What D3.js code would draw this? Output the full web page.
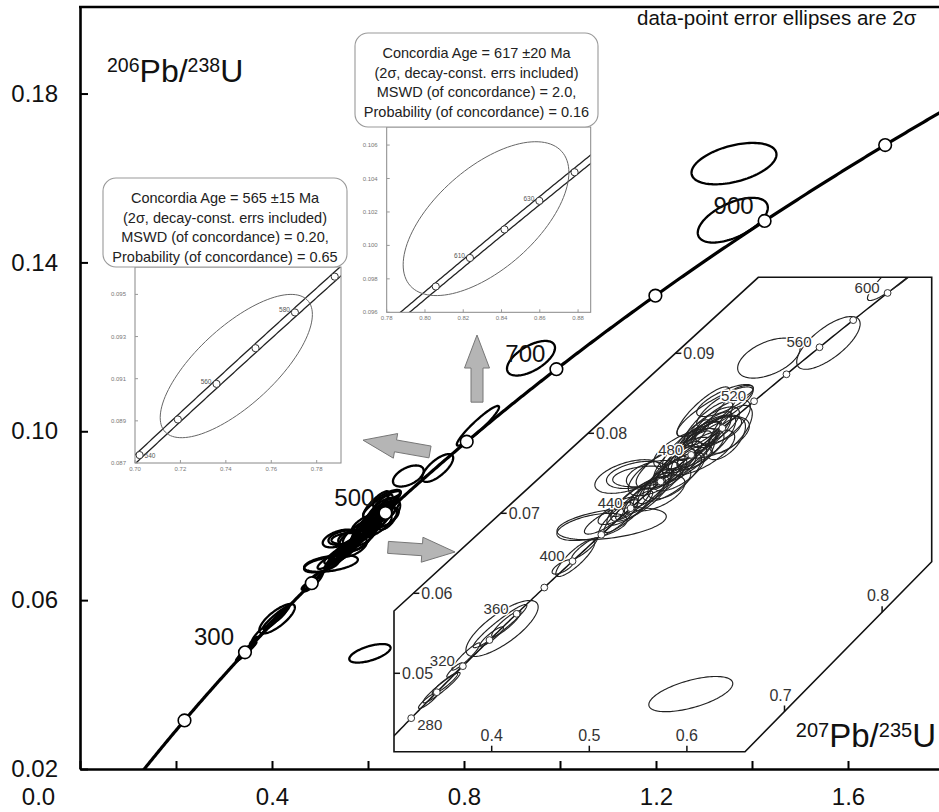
<!DOCTYPE html>
<html><head><meta charset="utf-8">
<script src="https://cdn.jsdelivr.net/npm/d3@7"></script>
<style>
body{margin:0;background:#fff}
svg{display:block}
text{font-family:"Liberation Sans",Arial,Helvetica,sans-serif}
</style>
</head><body>
<svg id="c" width="939" height="812"></svg>
<script>
// ---------- constants (decay constants, per Ma) ----------
const LAMBDA238 = 1.55125e-4;
const LAMBDA235 = 9.8485e-4;
const BAND = 0.0023; // relative decay-constant uncertainty used for inset bands

// ---------- data ----------
const mainAgeMarks = [200, 300, 400, 500, 600, 700, 800, 900, 1000, 1100];
const mainAgeLabels = [300, 500, 700, 900];
const panelAgeMarks = [280, 300, 320, 340, 360, 380, 400, 420, 440, 460, 480, 500, 520, 540, 560, 580, 600];
const panelAgeLabels = [280, 320, 360, 400, 440, 480, 520, 560, 600];
const insetAAgeMarks = [540, 550, 560, 570, 580, 590];
const insetAAgeLabels = [540, 560, 580];
const insetBAgeMarks = [600, 610, 620, 630, 640];
const insetBAgeLabels = [610, 630];

const mainXTicks = [0, 0.2, 0.4, 0.6, 0.8, 1.0, 1.2, 1.4, 1.6];
const mainXLabels = [0, 0.4, 0.8, 1.2, 1.6];
const mainYTicks = [0.02, 0.06, 0.10, 0.14, 0.18];
const panelXTicks = [0.4, 0.5, 0.6, 0.7, 0.8];
const panelYTicks = [0.05, 0.06, 0.07, 0.08, 0.09];
const insetAXTicks = [0.70, 0.72, 0.74, 0.76, 0.78];
const insetAYTicks = [0.087, 0.089, 0.091, 0.093, 0.095];
const insetBXTicks = [0.78, 0.80, 0.82, 0.84, 0.86, 0.88];
const insetBYTicks = [0.096, 0.098, 0.100, 0.102, 0.104, 0.106];

// grains: [207Pb/235U, 206Pb/238U, 2s(207/235), 2s(206/238), rho]
const grains = [
  [0.3350, 0.0466, 0.010, 0.0010, 0.90],
  [0.3486, 0.0482, 0.019, 0.0019, 0.95],
  [0.3520, 0.0487, 0.013, 0.0013, 0.93],
  [0.3620, 0.0504, 0.008, 0.0009, 0.90],
  [0.3737, 0.0521, 0.0145, 0.0017, 0.93],
  [0.4000, 0.0546, 0.012, 0.0012, 0.90],
  [0.4106, 0.0556, 0.037, 0.0035, 0.77],
  [0.4085, 0.0559, 0.0275, 0.0027, 0.95],
  [0.4150, 0.0562, 0.015, 0.0016, 0.90],
  [0.4729, 0.0633, 0.011, 0.0009, 0.70],
  [0.4857, 0.0644, 0.020, 0.0023, 0.85],
  [0.4950, 0.0656, 0.013, 0.0013, 0.90],
  [0.5150, 0.0690, 0.020, 0.0016, 0.80],
  [0.5229, 0.0687, 0.056, 0.0020, 0.45],
  [0.5028, 0.0683, 0.036, 0.0017, 0.50],
  [0.5270, 0.0700, 0.018, 0.0014, 0.70],
  [0.5300, 0.0695, 0.020, 0.0022, 0.85],
  [0.5350, 0.0708, 0.015, 0.0012, 0.60],
  [0.5400, 0.0702, 0.025, 0.0026, 0.90],
  [0.5450, 0.0712, 0.018, 0.0020, 0.85],
  [0.5480, 0.0715, 0.030, 0.0030, 0.85],
  [0.5520, 0.0718, 0.030, 0.0028, 0.80],
  [0.5600, 0.0725, 0.024, 0.0026, 0.85],
  [0.5397, 0.0746, 0.034, 0.0021, 0.50],
  [0.5486, 0.0748, 0.031, 0.0017, 0.40],
  [0.5550, 0.0746, 0.031, 0.0013, 0.30],
  [0.5660, 0.0748, 0.028, 0.0018, 0.40],
  [0.5650, 0.0732, 0.020, 0.0024, 0.85],
  [0.5700, 0.0725, 0.028, 0.0022, 0.60],
  [0.5750, 0.0740, 0.025, 0.0028, 0.85],
  [0.5750, 0.0752, 0.035, 0.0030, 0.70],
  [0.5800, 0.0752, 0.018, 0.0022, 0.80],
  [0.5820, 0.0738, 0.022, 0.0020, 0.60],
  [0.5850, 0.0745, 0.030, 0.0030, 0.75],
  [0.5880, 0.0763, 0.040, 0.0032, 0.75],
  [0.5900, 0.0760, 0.022, 0.0026, 0.85],
  [0.5920, 0.0752, 0.026, 0.0024, 0.70],
  [0.5950, 0.0770, 0.020, 0.0020, 0.80],
  [0.5980, 0.0772, 0.032, 0.0034, 0.80],
  [0.6000, 0.0775, 0.025, 0.0028, 0.85],
  [0.6020, 0.0780, 0.036, 0.0026, 0.60],
  [0.6050, 0.0785, 0.030, 0.0030, 0.80],
  [0.6050, 0.0795, 0.018, 0.0022, 0.85],
  [0.6080, 0.0770, 0.018, 0.0015, 0.60],
  [0.6100, 0.0783, 0.026, 0.0032, 0.85],
  [0.6120, 0.0790, 0.022, 0.0024, 0.80],
  [0.6150, 0.0776, 0.034, 0.0028, 0.70],
  [0.6180, 0.0797, 0.028, 0.0030, 0.85],
  [0.6200, 0.0788, 0.030, 0.0034, 0.80],
  [0.6220, 0.0812, 0.025, 0.0028, 0.80],
  [0.6250, 0.0800, 0.020, 0.0022, 0.75],
  [0.6280, 0.0795, 0.036, 0.0026, 0.55],
  [0.6350, 0.0812, 0.030, 0.0030, 0.70],
  [0.6400, 0.0793, 0.020, 0.0026, 0.60],
  [0.6450, 0.0805, 0.022, 0.0030, 0.65],
  [0.6268, 0.0808, 0.027, 0.0025, 0.70],
  [0.6320, 0.0805, 0.024, 0.0018, 0.50],
  [0.6168, 0.0827, 0.027, 0.0031, 0.85],
  [0.6390, 0.0841, 0.029, 0.0020, 0.75],
  [0.6544, 0.0851, 0.0136, 0.0009, 0.60],
  [0.6288, 0.0827, 0.039, 0.0031, 0.85],
  [0.6305, 0.0829, 0.0205, 0.0021, 0.80],
  [0.6840, 0.0894, 0.032, 0.0025, 0.50],
  [0.7450, 0.0913, 0.0325, 0.0033, 0.72],
  [0.8290, 0.1013, 0.044, 0.0047, 0.94],
  [0.6040, 0.0474, 0.043, 0.0022, 0.60],
  [0.9396, 0.1173, 0.050, 0.0041, 0.60],
  [1.3600, 0.1500, 0.073, 0.0053, 0.56],
  [1.3625, 0.1634, 0.0885, 0.0049, 0.44]
];
const insetAEllipse = [0.7446, 0.0916, 0.0335, 0.0034, 0.72];
const insetBEllipse = [0.8319, 0.1016, 0.0433, 0.0046, 0.60];

const insetAText = ["Concordia Age = 565 \u00b115 Ma", "(2\u03c3, decay-const. errs included)", "MSWD (of concordance) = 0.20,", "Probability (of concordance) = 0.65"];
const insetBText = ["Concordia Age = 617 \u00b120 Ma", "(2\u03c3, decay-const. errs included)", "MSWD (of concordance) = 2.0,", "Probability (of concordance) = 0.16"];
const noteText = "data-point error ellipses are 2\u03c3";

// annotation arrows (main-plot data coordinates): [tip, tail]
const arrows = [
  [[0.5896, 0.0979], [0.7292, 0.0951]],
  [[0.7813, 0.0714], [0.6417, 0.0725]],
  [[0.8271, 0.1228], [0.8271, 0.1069]]
];

// ---------- helpers ----------
function conc(t, f) { f = f || 0; return [Math.expm1(LAMBDA235 * (1 + f) * t), Math.expm1(LAMBDA238 * t)]; }
function ellPts(g) {
  const [cx, cy, ex, ey, r] = g, s = Math.sqrt(1 - r * r);
  return d3.range(0, 120).map(i => { const a = i / 120 * 2 * Math.PI; return [cx + ex * Math.cos(a), cy + ey * (r * Math.cos(a) + s * Math.sin(a))]; });
}
const svg = d3.select('#c');
const defs = svg.append('defs');
const FONT = '"Liberation Sans",Arial,sans-serif';

// ---------- main scales ----------
const x = d3.scaleLinear().domain([0, 1.8]).range([80, 944]);
const y = d3.scaleLinear().domain([0.02, 0.2005]).range([769, 7]);

defs.append('clipPath').attr('id', 'mainClip').append('rect').attr('x', 80).attr('y', 7).attr('width', 864).attr('height', 762);

const main = svg.append('g').attr('clip-path', 'url(#mainClip)');
const lineMain = d3.line().x(d => x(d[0])).y(d => y(d[1]));
const ellLineMain = d3.line().x(d => x(d[0])).y(d => y(d[1])).curve(d3.curveLinearClosed);

main.append('path').attr('d', lineMain(d3.range(0, 1201, 2).map(t => conc(t))))
  .attr('fill', 'none').attr('stroke', '#000').attr('stroke-width', 3.2);
main.selectAll('path.ell').data(grains).join('path').attr('class', 'ell')
  .attr('d', g => ellLineMain(ellPts(g))).attr('fill', 'none').attr('stroke', '#000').attr('stroke-width', 2.3);
main.selectAll('circle.age').data(mainAgeMarks).join('circle').attr('class', 'age')
  .attr('cx', t => x(conc(t)[0])).attr('cy', t => y(conc(t)[1])).attr('r', 6.3)
  .attr('fill', '#fff').attr('stroke', '#000').attr('stroke-width', 1.6);
main.selectAll('text.agelab').data(mainAgeLabels).join('text').attr('class', 'agelab')
  .attr('x', t => x(conc(t)[0]) - 11).attr('y', t => y(conc(t)[1]) - 7)
  .attr('text-anchor', 'end').attr('font-size', 24).attr('fill', '#111').text(t => t);

// axes
const yAxis = d3.axisLeft(y).tickValues(mainYTicks).tickSize(-8).tickSizeOuter(0).tickPadding(22).tickFormat(d3.format('.2f'));
const gy = svg.append('g').attr('transform', 'translate(80,0)').call(yAxis);
const xAxis = d3.axisBottom(x).tickValues(mainXTicks).tickSize(-8).tickSizeOuter(0).tickPadding(19)
  .tickFormat(d => mainXLabels.some(v => Math.abs(v - d) < 1e-9) ? d3.format('.1f')(d) : '');
const gx = svg.append('g').attr('transform', 'translate(0,769)').call(xAxis);
[gx, gy].forEach(g => {
  g.select('.domain').attr('stroke', '#000').attr('stroke-width', 2.6);
  g.selectAll('.tick line').attr('stroke', '#000').attr('stroke-width', 2);
  g.selectAll('.tick text').attr('font-size', 24).attr('font-family', FONT).attr('fill', '#111');
});
gx.selectAll('.tick text').filter(d => d === 0).attr('x', -42);
svg.append('line').attr('x1', 79).attr('x2', 944).attr('y1', 7).attr('y2', 7).attr('stroke', '#000').attr('stroke-width', 2.6);

// ---------- zoom panel (lower right) ----------
const px = d3.scaleLinear().domain([0.4, 0.5]).range([491.7, 589.3]);
const py = d3.scaleLinear().domain([0.05, 0.06]).range([673.3, 593.3]);
const P = [[394, 611], [758.3, 277.3], [931.7, 277.3], [931.7, 561.7], [745, 751.7], [394, 751.7]];
const polyStr = P.map(p => p.join(',')).join(' ');
defs.append('clipPath').attr('id', 'panelClip').append('polygon').attr('points', polyStr);
svg.append('polygon').attr('points', polyStr).attr('fill', '#fff');
const panel = svg.append('g').attr('clip-path', 'url(#panelClip)');
const lineP = d3.line().x(d => px(d[0])).y(d => py(d[1]));
const ellLineP = d3.line().x(d => px(d[0])).y(d => py(d[1])).curve(d3.curveLinearClosed);
panel.append('path').attr('d', lineP(d3.range(200, 701, 2).map(t => conc(t))))
  .attr('fill', 'none').attr('stroke', '#111').attr('stroke-width', 1.5);
panel.selectAll('path.ell').data(grains).join('path').attr('class', 'ell')
  .attr('d', g => ellLineP(ellPts(g))).attr('fill', 'none').attr('stroke', '#222').attr('stroke-width', 1.15);
panel.selectAll('circle').data(panelAgeMarks).join('circle')
  .attr('cx', t => px(conc(t)[0])).attr('cy', t => py(conc(t)[1])).attr('r', 3.4)
  .attr('fill', '#fff').attr('stroke', '#333').attr('stroke-width', 1);
panel.selectAll('text.al').data(panelAgeLabels).join('text').attr('class', 'al')
  .attr('x', t => px(conc(t)[0]) + (t === 280 ? 6 : -8)).attr('y', t => py(conc(t)[1]) + (t === 280 ? 12 : 0))
  .attr('text-anchor', t => t === 280 ? 'start' : 'end').attr('font-size', 15).attr('fill', '#333')
  .attr('stroke', '#fff').attr('stroke-width', 3).attr('paint-order', 'stroke').text(t => t);
svg.append('polygon').attr('points', polyStr).attr('fill', 'none').attr('stroke', '#111').attr('stroke-width', 1.6);
// panel ticks on boundary
const leftSlope = (P[0][1] - P[1][1]) / (P[1][0] - P[0][0]);
const rightSlope = (P[4][1] - P[3][1]) / (P[3][0] - P[4][0]);
panelYTicks.forEach(v => {
  const yy = py(v); const xx = yy >= P[0][1] ? P[0][0] : P[0][0] + (P[0][1] - yy) / leftSlope;
  svg.append('line').attr('x1', xx).attr('x2', xx + 6).attr('y1', yy).attr('y2', yy).attr('stroke', '#111').attr('stroke-width', 1.5);
  svg.append('text').attr('x', xx + 8).attr('y', yy + 5.5).attr('font-size', 16).attr('fill', '#333').text(d3.format('.2f')(v));
});
panelXTicks.forEach(v => {
  const xx = px(v); const yy = xx <= P[4][0] ? P[4][1] : P[4][1] - (xx - P[4][0]) * rightSlope;
  svg.append('line').attr('x1', xx).attr('x2', xx).attr('y1', yy).attr('y2', yy - 6).attr('stroke', '#111').attr('stroke-width', 1.5);
  const onDiag = xx > P[4][0];
  svg.append('text').attr('x', onDiag ? xx - 4 : xx).attr('y', yy - 11).attr('text-anchor', 'middle')
    .attr('font-size', 16).attr('fill', '#333').text(d3.format('.1f')(v));
});

// ---------- inset helper ----------
function drawInset(cfg) {
  const sx = d3.scaleLinear().domain(cfg.xd).range([cfg.l, cfg.r]);
  const sy = d3.scaleLinear().domain(cfg.yd).range([cfg.b, cfg.t]);
  const id = cfg.id;
  defs.append('clipPath').attr('id', id).append('rect').attr('x', cfg.l).attr('y', cfg.t).attr('width', cfg.r - cfg.l).attr('height', cfg.b - cfg.t);
  svg.append('rect').attr('x', cfg.l).attr('y', cfg.t).attr('width', cfg.r - cfg.l).attr('height', cfg.b - cfg.t).attr('fill', '#fff');
  const g = svg.append('g').attr('clip-path', `url(#${id})`);
  const ln = d3.line().x(d => sx(d[0])).y(d => sy(d[1]));
  const ages = d3.range(cfg.a0, cfg.a1, 0.5);
  [-BAND, BAND].forEach(f => g.append('path').attr('d', ln(ages.map(t => conc(t, f))))
    .attr('fill', 'none').attr('stroke', '#222').attr('stroke-width', 1.3));
  g.append('path').attr('d', d3.line().x(d => sx(d[0])).y(d => sy(d[1])).curve(d3.curveLinearClosed)(ellPts(cfg.ell)))
    .attr('fill', 'none').attr('stroke', '#666').attr('stroke-width', 1);
  g.selectAll('circle').data(cfg.marks).join('circle').attr('cx', t => sx(conc(t)[0])).attr('cy', t => sy(conc(t)[1]))
    .attr('r', 3.6).attr('fill', '#fff').attr('stroke', '#333').attr('stroke-width', 1);
  g.selectAll('text').data(cfg.labels).join('text')
    .attr('x', t => sx(conc(t)[0]) + (t === cfg.labRight ? 5 : -5)).attr('y', t => sy(conc(t)[1]) + (t === cfg.labRight ? 3 : 0))
    .attr('text-anchor', t => t === cfg.labRight ? 'start' : 'end').attr('font-size', 6.5).attr('fill', '#555').text(t => t);
  svg.append('rect').attr('x', cfg.l).attr('y', cfg.t).attr('width', cfg.r - cfg.l).attr('height', cfg.b - cfg.t)
    .attr('fill', 'none').attr('stroke', '#888').attr('stroke-width', 1);
  cfg.xt.forEach(v => {
    svg.append('line').attr('x1', sx(v)).attr('x2', sx(v)).attr('y1', cfg.b).attr('y2', cfg.b - 3).attr('stroke', '#999');
    svg.append('text').attr('x', sx(v)).attr('y', cfg.b + 8).attr('text-anchor', 'middle').attr('font-size', 6).attr('fill', '#777').text(v.toFixed(2));
  });
  cfg.yt.forEach(v => {
    svg.append('line').attr('x1', cfg.l).attr('x2', cfg.l + 3).attr('y1', sy(v)).attr('y2', sy(v)).attr('stroke', '#999');
    svg.append('text').attr('x', cfg.l - 9).attr('y', sy(v) + 2).attr('text-anchor', 'end').attr('font-size', 6).attr('fill', '#777').text(v.toFixed(3));
  });
  // text box
  svg.append('rect').attr('x', cfg.box[0]).attr('y', cfg.box[1]).attr('width', cfg.box[2] - cfg.box[0]).attr('height', cfg.box[3] - cfg.box[1])
    .attr('rx', 13).attr('fill', '#fff').attr('stroke', '#999').attr('stroke-width', 1.1);
  cfg.text.forEach((s, i) => svg.append('text').attr('x', (cfg.box[0] + cfg.box[2]) / 2).attr('y', cfg.box[1] + 25 + i * 19.6)
    .attr('text-anchor', 'middle').attr('font-size', 14.5).attr('fill', '#222').text(s));
}
drawInset({id: 'ia', xd: [0.70, 0.7907], yd: [0.087, 0.0963], l: 135, r: 341, t: 267, b: 463, a0: 520, a1: 620,
  ell: insetAEllipse, marks: insetAAgeMarks, labels: insetAAgeLabels, labRight: 540,
  xt: insetAXTicks, yt: insetAYTicks, box: [103, 178, 347, 267], text: insetAText});
drawInset({id: 'ib', xd: [0.78, 0.8866], yd: [0.096, 0.10708], l: 386.7, r: 590.7, t: 127, b: 312.3, a0: 580, a1: 660,
  ell: insetBEllipse, marks: insetBAgeMarks, labels: insetBAgeLabels, labRight: -1,
  xt: insetBXTicks, yt: insetBYTicks, box: [355, 33, 598, 127], text: insetBText});

// ---------- arrows ----------
function arrowPath(tip, tail, hl, hw, sw) {
  const dx = tip[0] - tail[0], dy = tip[1] - tail[1], L = Math.hypot(dx, dy);
  const ux = dx / L, uy = dy / L, nx = -uy, ny = ux;
  const pt = (a, b) => [tip[0] + ux * a + nx * b, tip[1] + uy * a + ny * b];
  const pts = [pt(0, 0), pt(-hl, hw), pt(-hl, sw), pt(-L, sw), pt(-L, -sw), pt(-hl, -sw), pt(-hl, -hw)];
  return 'M' + pts.map(p => p.join(',')).join('L') + 'Z';
}
arrows.forEach(a => {
  const tip = [x(a[0][0]), y(a[0][1])], tail = [x(a[1][0]), y(a[1][1])];
  svg.append('path').attr('d', arrowPath(tip, tail, 33, 12.5, 6)).attr('fill', '#b5b5b5').attr('stroke', '#777').attr('stroke-width', 1);
});

// ---------- axis titles & note ----------
function ratioLabel(xp, yp, a, b, c, d, big, small, anchor) {
  const t = svg.append('text').attr('x', xp).attr('y', yp).attr('text-anchor', anchor).attr('fill', '#111').attr('font-size', big);
  t.append('tspan').attr('font-size', small).attr('dy', -10).text(a);
  t.append('tspan').attr('font-size', big).attr('dy', 10).text(b);
  t.append('tspan').attr('font-size', small).attr('dy', -10).text(c);
  t.append('tspan').attr('font-size', big).attr('dy', 10).text(d);
}
ratioLabel(107, 82, '206', 'Pb/', '238', 'U', 32, 19.5, 'start');
ratioLabel(936, 747, '207', 'Pb/', '235', 'U', 33, 20, 'end');
svg.append('text').attr('x', 637).attr('y', 25).attr('font-size', 20.5).attr('fill', '#111').text(noteText);
</script>
</body></html>
